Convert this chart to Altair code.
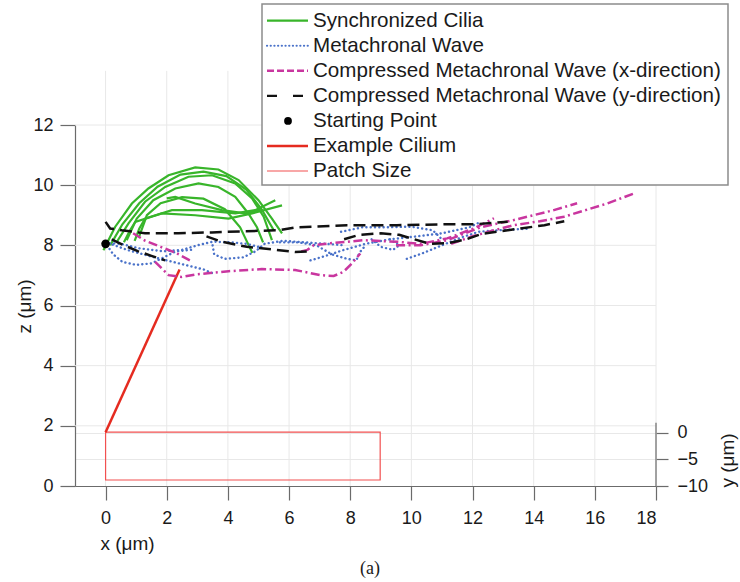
import altair as alt
import pandas as pd

# ---------------- data ----------------
x_ticks = [0, 2, 4, 6, 8, 10, 12, 14, 16, 18]
z_ticks = [0, 2, 4, 6, 8, 10, 12]
y_ticks = [0, -5, -10]

green_curves = [
    [(-0.07, 7.84), (0.31, 8.61), (0.86, 9.39), (1.40, 9.89), (2.06, 10.33), (2.93, 10.59),
     (3.69, 10.52), (4.35, 10.17), (5.00, 9.50), (5.44, 8.89), (5.77, 8.40)],
    [(0.15, 8.00), (0.55, 8.70), (1.10, 9.40), (1.70, 9.95), (2.45, 10.35), (3.20, 10.45),
     (3.95, 10.30), (4.60, 9.85), (5.10, 9.20), (5.50, 8.50)],
    [(0.37, 8.12), (0.75, 8.73), (1.29, 9.45), (1.95, 9.94), (2.71, 10.28), (3.48, 10.33),
     (4.24, 10.06), (4.79, 9.56), (5.17, 8.95), (5.44, 8.17)],
    [(0.69, 8.17), (1.02, 8.89), (1.56, 9.50), (2.28, 9.89), (3.04, 10.06), (3.69, 9.94),
     (4.24, 9.61), (4.67, 9.06), (4.95, 8.60), (5.15, 8.10)],
    [(1.10, 8.30), (1.35, 9.00), (1.80, 9.40), (2.50, 9.60), (3.20, 9.55), (3.90, 9.20),
     (4.40, 8.60), (4.80, 7.75)],
    [(0.60, 8.10), (0.80, 8.50), (0.97, 8.78), (1.84, 9.06), (2.93, 9.00), (4.02, 8.89),
     (4.79, 9.06), (5.77, 9.33)],
    [(0.95, 8.15), (1.10, 8.55), (1.29, 8.89), (2.17, 9.17), (3.15, 9.17), (4.24, 9.06),
     (4.89, 9.17), (5.55, 9.50)],
    [(2.00, 9.56), (2.28, 9.61), (2.93, 9.39), (3.80, 9.17), (4.57, 9.06), (5.11, 9.17)],
]

blue_curves = [
    [(0.00, 8.07), (0.50, 8.05), (1.10, 7.90), (1.90, 7.80), (2.50, 7.85), (3.00, 8.00),
     (3.50, 8.12), (4.10, 8.10), (4.60, 8.05), (5.00, 7.95)],
    [(3.50, 8.00), (3.55, 7.70), (3.90, 7.55), (4.50, 7.60), (4.90, 7.80), (5.20, 8.05),
     (5.80, 8.15), (6.50, 8.10), (7.20, 8.05), (7.80, 8.00)],
    [(0.05, 8.00), (0.25, 7.70), (0.55, 7.45), (1.00, 7.35), (1.50, 7.40), (1.90, 7.60),
     (2.30, 7.80), (2.80, 7.85)],
    [(0.10, 8.07), (0.70, 7.85), (1.60, 7.60), (2.40, 7.40), (3.20, 7.20), (3.55, 7.05)],
    [(5.70, 8.10), (6.30, 8.10), (6.90, 8.00), (7.40, 7.70), (7.90, 7.55), (8.20, 7.50),
     (8.30, 7.75), (8.50, 8.00)],
    [(7.70, 8.45), (8.40, 8.60), (9.10, 8.60), (10.00, 8.62), (10.70, 8.50), (11.00, 8.20)],
    [(6.70, 7.50), (7.20, 7.65), (7.80, 7.85), (8.50, 8.05), (9.30, 8.20), (10.20, 8.30),
     (11.00, 8.40), (11.90, 8.60), (12.20, 8.75)],
    [(9.85, 7.55), (10.40, 7.75), (11.00, 8.00), (11.60, 8.25), (12.20, 8.45), (12.80, 8.50),
     (13.80, 8.55)],
    [(8.70, 8.20), (9.00, 7.95), (9.40, 7.85), (9.60, 8.00), (9.30, 8.20)],
]

magenta_curves = [
    [(0.90, 8.40), (1.30, 8.15), (1.80, 7.95), (2.30, 7.75), (2.85, 7.45)],
    [(1.62, 7.45), (2.06, 7.01), (2.49, 6.95), (2.93, 7.03), (4.02, 7.14), (5.11, 7.21),
     (6.20, 7.18), (7.02, 7.01), (7.46, 6.98), (7.78, 7.12), (8.06, 7.40), (8.33, 7.73)],
    [(6.40, 7.80), (6.60, 7.85), (6.80, 8.00), (7.35, 8.07), (8.44, 8.17), (9.53, 8.12),
     (10.30, 8.05), (11.17, 8.23), (12.04, 8.56), (12.70, 8.90)],
    [(9.50, 8.00), (10.30, 8.00), (11.17, 8.17), (12.26, 8.60), (13.35, 8.84), (14.66, 9.17),
     (15.42, 9.40)],
    [(11.30, 8.05), (12.00, 8.30), (12.70, 8.50), (13.35, 8.67), (14.20, 8.80), (14.99, 8.95),
     (16.40, 9.39), (17.27, 9.72)],
]

black_curves = [
    [(0.00, 8.78), (0.15, 8.56), (0.53, 8.50), (1.29, 8.40), (2.38, 8.40), (3.48, 8.43),
     (4.57, 8.47), (5.66, 8.50), (6.26, 8.60), (7.90, 8.67), (9.53, 8.67), (11.17, 8.70),
     (12.04, 8.70), (13.15, 8.78)],
    [(0.20, 8.20), (0.60, 8.00), (1.07, 7.80), (1.50, 7.65), (1.95, 7.50)],
    [(3.30, 8.30), (3.80, 8.12), (4.62, 7.95), (5.33, 7.88), (6.20, 7.78), (6.60, 7.80)],
    [(7.80, 8.20), (8.30, 8.35), (9.00, 8.40), (9.60, 8.35), (10.10, 8.20), (10.60, 8.05),
     (11.20, 8.07), (11.80, 8.20), (12.30, 8.38), (13.15, 8.50), (14.35, 8.67), (15.00, 8.80)],
]

start_x, start_z = [0.0], [8.05]
cilium_x = [0.0, 2.42]
cilium_z = [1.79, 7.20]
patch_x = [0.0, 8.98]
patch_z = [0.20, 1.79]

legend_labels = [
    "Synchronized Cilia",
    "Metachronal Wave",
    "Compressed Metachronal Wave (x-direction)",
    "Compressed Metachronal Wave (y-direction)",
    "Starting Point",
    "Example Cilium",
    "Patch Size",
]

# ---------------- helpers ----------------
def curves_df(curves):
    rows = []
    for ci, c in enumerate(curves):
        for k, (x, z) in enumerate(c):
            rows.append(dict(curve=ci, k=k, x=x, z=z))
    return pd.DataFrame(rows)

W, H = 581, 361
FONT = "Liberation Sans"
AXC = "#6b6b6b"
GRIDC = "#e8e8e8"
PATCH_RED = "#f25050"

xs = alt.Scale(domain=[-1, 18], nice=False, zero=False)
zs = alt.Scale(domain=[0, 12], nice=False, zero=False)

common_ax = dict(domainColor=AXC, tickColor=AXC, domainWidth=1.2, tickWidth=1.2,
                 labelColor="#1a1a1a", labelFont=FONT, labelFontSize=18,
                 titleFont=FONT, titleFontWeight="normal", titleColor="#1a1a1a",
                 titleFontSize=19)

x_axis = alt.Axis(values=x_ticks, tickSize=14, labelPadding=9, title="x (μm)",
                  titleX=52, titleY=57, titleAlign="center", titleBaseline="middle",
                  format="d", grid=False, **common_ax)
z_axis = alt.Axis(values=z_ticks, tickSize=15, labelPadding=7, title="z (μm)",
                  titleAngle=270, titleX=-51, titleY=181, titleAlign="center",
                  titleBaseline="middle", format="d", grid=False, **common_ax)

def X(f):
    return alt.X(f, type="quantitative", scale=xs, axis=x_axis)

def Z(f):
    return alt.Y(f, type="quantitative", scale=zs, axis=z_axis)

# ---------------- main plot layers ----------------
vgrid = alt.Chart(pd.DataFrame({"x": x_ticks, "z0": 0.0, "z1": 13.8})).mark_rule(
    color=GRIDC, strokeWidth=1).encode(x=X("x"), y=Z("z0"), y2="z1")
hgrid = alt.Chart(pd.DataFrame({"z": z_ticks[1:], "x0": -1.0, "x1": 18.0})).mark_rule(
    color=GRIDC, strokeWidth=1).encode(y=Z("z"), x=X("x0"), x2="x1")

patch = alt.Chart(pd.DataFrame({"x0": [patch_x[0]], "x1": [patch_x[1]],
                                "z0": [patch_z[0]], "z1": [patch_z[1]]})).mark_rect(
    fillOpacity=0, stroke=PATCH_RED, strokeWidth=1.2).encode(
    x=X("x0"), x2="x1", y=Z("z0"), y2="z1")

right_line = alt.Chart(pd.DataFrame({"x": [18.0], "z0": [0.0], "z1": [2.1]})).mark_rule(
    color=AXC, strokeWidth=1.2).encode(x=X("x"), y=Z("z0"), y2="z1")

def line_layer(curves, **mark):
    return alt.Chart(curves_df(curves)).mark_line(**mark).encode(
        x=X("x"), y=Z("z"), detail="curve:N", order="k:Q")

green = line_layer(green_curves, color="#38b52a", strokeWidth=2.2)
blue = line_layer(blue_curves, color="#4a72c9", strokeWidth=2.4,
                  strokeDash=[0.1, 4.2], strokeCap="round")
magenta = line_layer(magenta_curves, color="#c9369f", strokeWidth=2.5,
                     strokeDash=[9, 3.5, 2, 3.5])
black = line_layer(black_curves, color="#111111", strokeWidth=2.5, strokeDash=[12, 6])

cilium = alt.Chart(pd.DataFrame({"x": cilium_x, "z": cilium_z})).mark_line(
    color="#e52b20", strokeWidth=2.5).encode(x=X("x"), y=Z("z"))

start = alt.Chart(pd.DataFrame({"x": start_x, "z": start_z})).mark_point(
    filled=True, color="black", size=75, opacity=1).encode(x=X("x"), y=Z("z"))

main = alt.layer(vgrid, hgrid, patch, right_line, cilium, green, blue, magenta, black, start)

# ---------------- right (y) axis ----------------
y_axis = alt.Axis(orient="right", values=y_ticks, domain=False, tickSize=12,
                  labelPadding=9, title="y (μm)", titleAngle=270, titleX=71, titleY=335,
                  titleAlign="center", titleBaseline="middle", grid=True,
                  gridColor=GRIDC, format="d", **common_ax)
right_axis = alt.Chart(pd.DataFrame({"y": [-10.0]})).mark_point(opacity=0).encode(
    x=alt.value(W),
    y=alt.Y("y:Q", scale=alt.Scale(domain=[-10, 57.5], nice=False, zero=False), axis=y_axis))

# ---------------- legend ----------------
leg = pd.DataFrame({"label": legend_labels, "i": list(range(len(legend_labels)))})
leg_base = alt.Chart(leg).transform_calculate(ly="-104.3 + 25.05 * datum.i")

box = alt.Chart(pd.DataFrame({"a": [0]})).mark_rect(
    fill="white", stroke="#8c8c8c", strokeWidth=1.5).encode(
    x=alt.value(187), x2=alt.value(653), y=alt.value(-121), y2=alt.value(60))

def leg_line(idx, **mark):
    return leg_base.transform_filter(f"datum.i == {idx}").mark_rule(**mark).encode(
        x=alt.value(192), x2=alt.value(233), y=alt.Y("ly:Q", scale=None))

sym = [
    leg_line(0, color="#38b52a", strokeWidth=2.2),
    leg_line(1, color="#4a72c9", strokeWidth=2.2, strokeDash=[0.1, 3.6], strokeCap="round"),
    leg_line(2, color="#c9369f", strokeWidth=2.4, strokeDash=[7, 3]),
    leg_line(3, color="#111111", strokeWidth=2.4, strokeDash=[10, 16]),
    leg_line(5, color="#e52b20", strokeWidth=2.5),
    leg_line(6, color=PATCH_RED, strokeWidth=1.2),
]
leg_pt = leg_base.transform_filter("datum.i == 4").mark_point(
    filled=True, color="black", size=60, opacity=1).encode(
    x=alt.value(213), y=alt.Y("ly:Q", scale=None))

leg_text = leg_base.mark_text(align="left", baseline="middle", font=FONT, fontSize=20.6,
                              color="#1a1a1a").encode(
    x=alt.value(238), y=alt.Y("ly:Q", scale=None), text="label:N")

caption = alt.Chart(pd.DataFrame({"t": ["(a)"]})).mark_text(
    font="Liberation Serif", fontSize=18, color="#1a1a1a", baseline="middle").encode(
    x=alt.value(295), y=alt.value(444), text="t:N")

chart = alt.layer(main, right_axis, box, *sym, leg_pt, leg_text, caption).resolve_scale(
    y="independent"
).properties(
    width=W, height=H,
    autosize=alt.AutoSizeParams(type="none"),
    padding={"left": 75, "top": 125, "right": 84, "bottom": 96},
).configure_view(stroke=None)

chart.save("out.html", embed_options={"renderer": "svg", "actions": False})
